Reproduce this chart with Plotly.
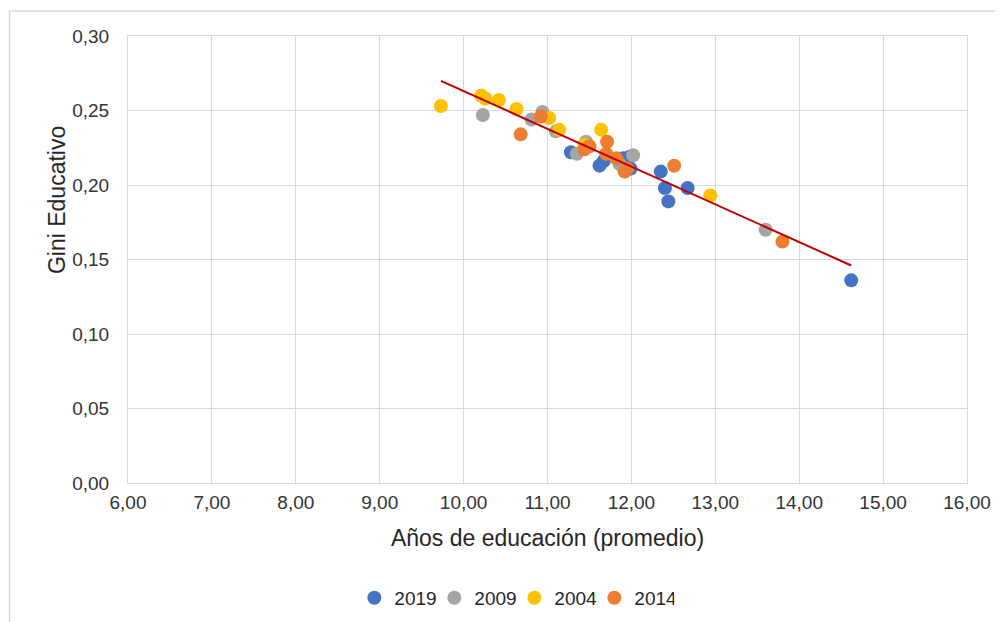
import numpy as np
import plotly.graph_objects as go

series_names = ["2019", "2009", "2004", "2014"]
colors = ["#4472C4", "#A5A5A5", "#FFC000", "#ED7D31"]

x_2019 = [11.28, 11.62, 11.67, 11.90, 11.98, 11.99, 12.35, 12.40, 12.44, 12.67, 14.62]
y_2019 = [0.222, 0.213, 0.216, 0.218, 0.219, 0.211, 0.209, 0.198, 0.189, 0.198, 0.136]

x_2009 = [10.23, 10.81, 10.94, 11.10, 11.35, 11.46, 11.86, 12.02, 13.60]
y_2009 = [0.247, 0.244, 0.249, 0.236, 0.221, 0.229, 0.214, 0.220, 0.170]

x_2004 = [9.73, 10.21, 10.26, 10.42, 10.63, 11.02, 11.14, 11.44, 11.64, 12.94]
y_2004 = [0.253, 0.260, 0.258, 0.257, 0.251, 0.245, 0.237, 0.227, 0.237, 0.193]

x_2014 = [10.68, 10.92, 11.44, 11.50, 11.71, 11.70, 11.82, 11.92, 11.95, 12.51, 13.80]
y_2014 = [0.234, 0.246, 0.224, 0.226, 0.229, 0.221, 0.218, 0.209, 0.211, 0.213, 0.162]

xs = [x_2019, x_2009, x_2004, x_2014]
ys = [y_2019, y_2009, y_2004, y_2014]

x_title = "Años de educación (promedio)"
y_title = "Gini Educativo"

fig = go.Figure()
for name, c, xv, yv in zip(series_names, colors, xs, ys):
    fig.add_trace(go.Scatter(x=xv, y=yv, mode="markers", name=name,
                             marker=dict(color=c, size=14, line=dict(width=0))))

# linear trend over all points
all_x = np.concatenate([np.array(v) for v in xs])
all_y = np.concatenate([np.array(v) for v in ys])
m, b = np.polyfit(all_x, all_y, 1)
tx = np.array([all_x.min(), all_x.max()])
fig.add_trace(go.Scatter(x=tx, y=m * tx + b, mode="lines", showlegend=False,
                         line=dict(color="#C00000", width=2), hoverinfo="skip"))

font_family = "Liberation Sans, Arial, sans-serif"
fig.update_layout(
    width=1003, height=622,
    margin=dict(l=120, r=44, t=28, b=147),
    paper_bgcolor="white", plot_bgcolor="white",
    separators=",.",
    font=dict(family=font_family, size=19, color="#404040"),
    showlegend=True,
    legend=dict(orientation="h", x=0.4605, y=-0.257, xanchor="center", yanchor="middle",
                font=dict(size=19, color="#262626"), itemwidth=30,
                entrywidth=35, entrywidthmode="pixels",
                traceorder="normal"),
    shapes=[dict(type="rect", xref="paper", yref="paper",
                 x0=-0.1412, x1=1.2, y0=-0.5, y1=1.056,
                 line=dict(color="#D9D9D9", width=1.5), fillcolor="rgba(0,0,0,0)", layer="below")],
    annotations=[dict(text=y_title, textangle=-90, xref="paper", yref="paper",
                      x=-0.0846, y=0.633, xanchor="center", yanchor="middle",
                      showarrow=False, font=dict(size=23, color="#262626"))],
)
fig.update_xaxes(range=[6, 16], dtick=1, tick0=6, tickformat=".2f",
                 showgrid=True, gridcolor="#D9D9D9", gridwidth=1,
                 showline=True, linecolor="#D9D9D9", mirror=True, zeroline=False,
                 ticks="", ticklabelstandoff=2, tickfont=dict(size=19, color="#333333"),
                 title=dict(text=x_title, font=dict(size=23, color="#262626"), standoff=18))
fig.update_yaxes(range=[0, 0.30], dtick=0.05, tick0=0, tickformat=".2f",
                 showgrid=True, gridcolor="#D9D9D9", gridwidth=1,
                 showline=True, linecolor="#D9D9D9", mirror=True, zeroline=False,
                 ticks="", ticklabelstandoff=14, tickfont=dict(size=19, color="#333333"))

fig.write_html("out.html")
